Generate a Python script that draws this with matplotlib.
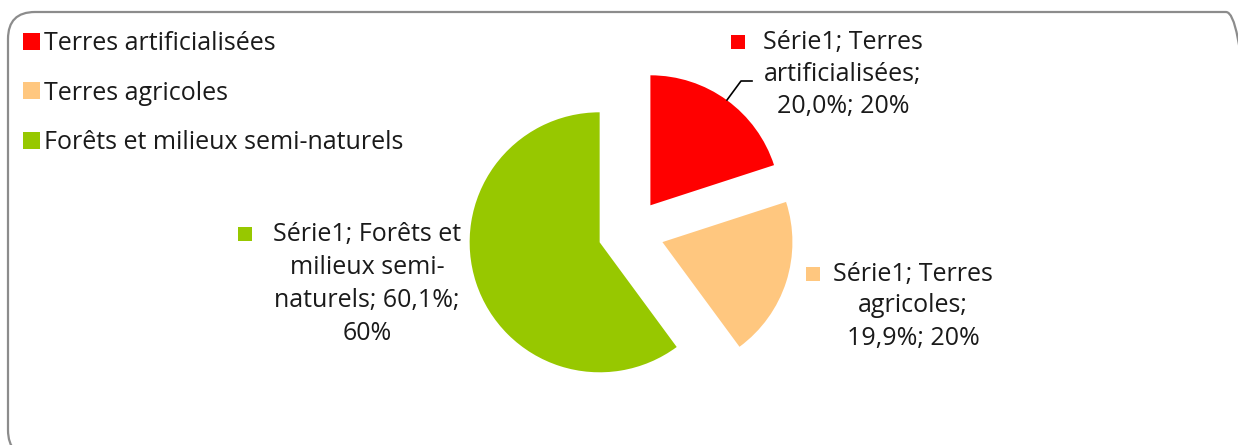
import matplotlib.pyplot as plt
from matplotlib.patches import FancyBboxPatch, Rectangle

# data
categories = ["Terres artificialisées", "Terres agricoles", "Forêts et milieux semi-naturels"]
values = [20.0, 19.9, 60.1]
colors = ["#FF0000", "#FFC77F", "#97C800"]
# wrapped data labels, as drawn on the chart
label_lines = [
    ["Série1; Terres", "artificialisées;", "20,0%; 20%"],
    ["Série1; Terres", "agricoles;", "19,9%; 20%"],
    ["Série1; Forêts et", "milieux semi-", "naturels; 60,1%;", "60%"],
]

W, H = 1238, 445
plt.rcParams['font.family'] = ['Open Sans', 'DejaVu Sans']
fig = plt.figure(figsize=(W / 100, H / 100), dpi=100)
ax = fig.add_axes([0, 0, 1, 1])

def iy(y):
    return H - y

# rounded chart border (pixel units, runs off the right and bottom edges)
border = FancyBboxPatch((8, iy(457)), 1245, 445, boxstyle="round,pad=0,rounding_size=27",
                        transform=None, fill=False, edgecolor="#8c8c8c", linewidth=1.6)
fig.patches.append(border)

wedges, _ = ax.pie(values, colors=colors, startangle=90, counterclock=False,
                   radius=130, center=(631, iy(232)), explode=[33, 33, 33],
                   wedgeprops=dict(linewidth=0))
ax.set_xlim(0, W)
ax.set_ylim(0, H)
ax.set_aspect('equal')
ax.axis('off')

fs = 18
leg = ax.legend(wedges, categories, loc='upper left', bbox_to_anchor=(13 / W, 1 - 21 / H),
                frameon=False, fontsize=fs, handlelength=0.66, handleheight=0.66,
                handletextpad=0.2, labelspacing=0.98, borderaxespad=0,
                labelcolor='#1a1a1a')

# data labels: (center x, first line y, marker x, line spacing)
label_pos = [(843, 42, 738, 32), (913, 274, 813, 32), (367, 234, 245, 33)]
for lines, (cx, y0, mx, dy), c in zip(label_lines, label_pos, colors):
    for k, line in enumerate(lines):
        ax.text(cx, iy(y0 + k * dy), line, ha='center', va='center', fontsize=fs, color='#1a1a1a')
    ax.add_patch(Rectangle((mx - 7, iy(y0) - 7), 14, 14, color=c, linewidth=0))

# leader line for the first slice
ax.plot([727, 741, 752], [iy(100), iy(81), iy(81)], color='black', linewidth=1.2)

fig.savefig("out.png", dpi=100)
